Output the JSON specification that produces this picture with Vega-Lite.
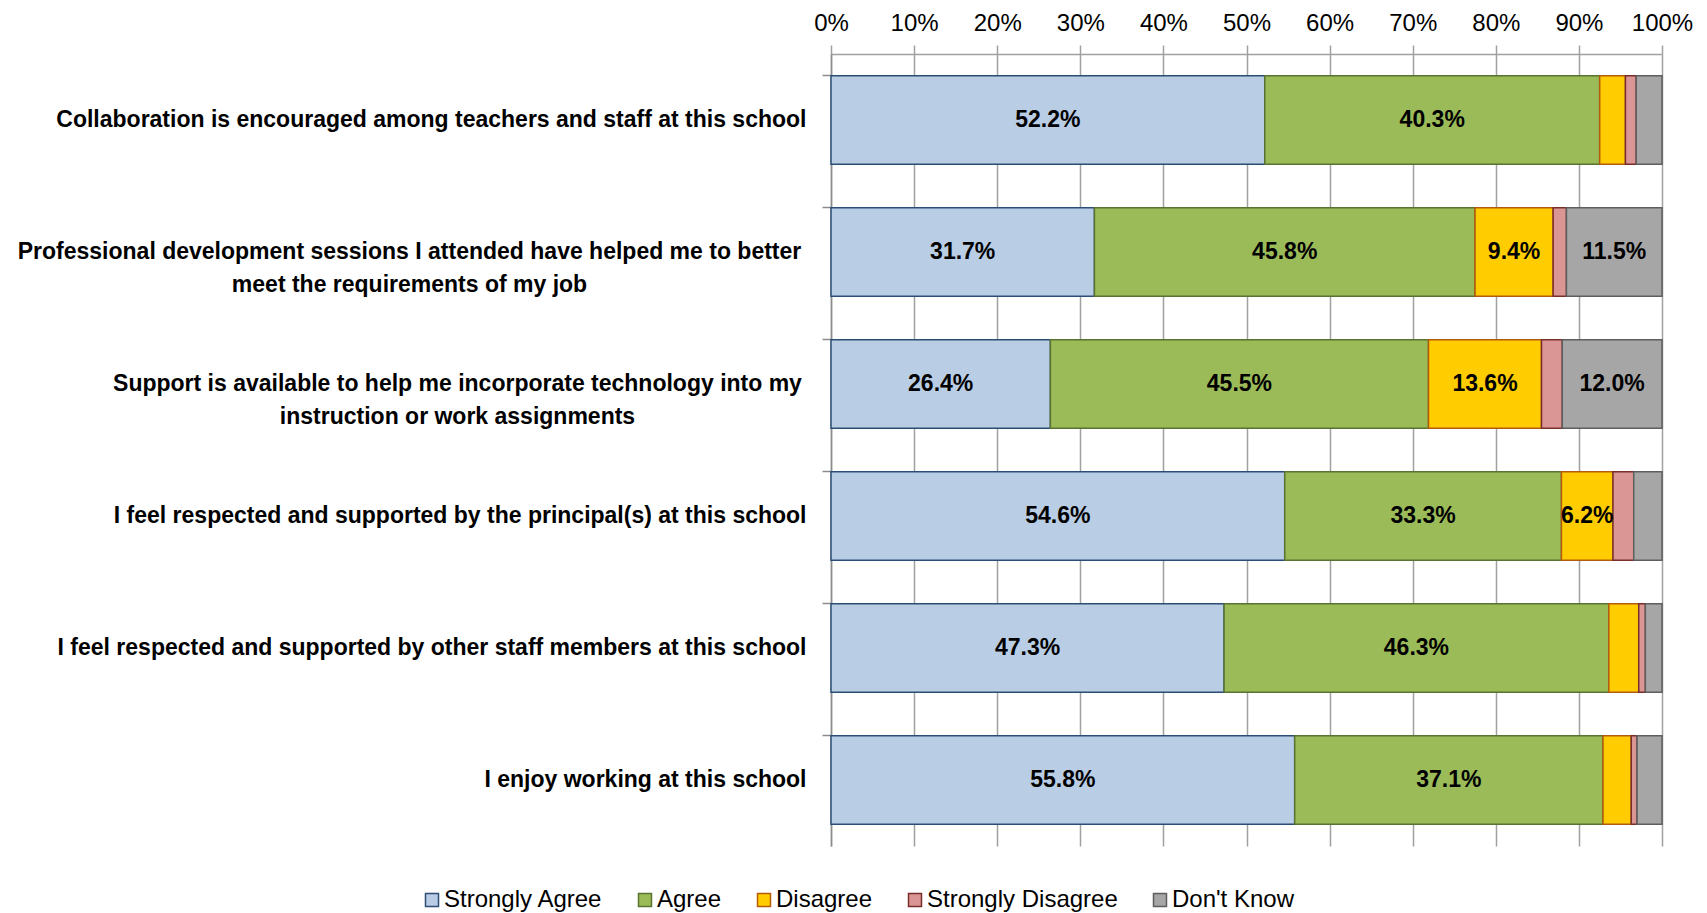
{
  "$schema": "https://vega.github.io/schema/vega-lite/v6.json",
  "width": 831,
  "height": 792,
  "autosize": {"type": "none"},
  "padding": {"left": 831, "top": 54, "right": 45, "bottom": 67},
  "background": "white",
  "config": {"view": {"stroke": null}, "font": "Liberation Sans"},
  "data": {"values": [
    {"q": "Collaboration is encouraged among teachers and staff at this school", "cat": "Strongly Agree", "order": 1, "value": 52.2},
    {"q": "Collaboration is encouraged among teachers and staff at this school", "cat": "Agree", "order": 2, "value": 40.3},
    {"q": "Collaboration is encouraged among teachers and staff at this school", "cat": "Disagree", "order": 3, "value": 3.1},
    {"q": "Collaboration is encouraged among teachers and staff at this school", "cat": "Strongly Disagree", "order": 4, "value": 1.3},
    {"q": "Collaboration is encouraged among teachers and staff at this school", "cat": "Don't Know", "order": 5, "value": 3.1},
    {"q": "Professional development sessions I attended have helped me to better|meet the requirements of my job", "cat": "Strongly Agree", "order": 1, "value": 31.7},
    {"q": "Professional development sessions I attended have helped me to better|meet the requirements of my job", "cat": "Agree", "order": 2, "value": 45.8},
    {"q": "Professional development sessions I attended have helped me to better|meet the requirements of my job", "cat": "Disagree", "order": 3, "value": 9.4},
    {"q": "Professional development sessions I attended have helped me to better|meet the requirements of my job", "cat": "Strongly Disagree", "order": 4, "value": 1.6},
    {"q": "Professional development sessions I attended have helped me to better|meet the requirements of my job", "cat": "Don't Know", "order": 5, "value": 11.5},
    {"q": "Support is available to help me incorporate technology into my|instruction or work assignments", "cat": "Strongly Agree", "order": 1, "value": 26.4},
    {"q": "Support is available to help me incorporate technology into my|instruction or work assignments", "cat": "Agree", "order": 2, "value": 45.5},
    {"q": "Support is available to help me incorporate technology into my|instruction or work assignments", "cat": "Disagree", "order": 3, "value": 13.6},
    {"q": "Support is available to help me incorporate technology into my|instruction or work assignments", "cat": "Strongly Disagree", "order": 4, "value": 2.5},
    {"q": "Support is available to help me incorporate technology into my|instruction or work assignments", "cat": "Don't Know", "order": 5, "value": 12.0},
    {"q": "I feel respected and supported by the principal(s) at this school", "cat": "Strongly Agree", "order": 1, "value": 54.6},
    {"q": "I feel respected and supported by the principal(s) at this school", "cat": "Agree", "order": 2, "value": 33.3},
    {"q": "I feel respected and supported by the principal(s) at this school", "cat": "Disagree", "order": 3, "value": 6.2},
    {"q": "I feel respected and supported by the principal(s) at this school", "cat": "Strongly Disagree", "order": 4, "value": 2.5},
    {"q": "I feel respected and supported by the principal(s) at this school", "cat": "Don't Know", "order": 5, "value": 3.4},
    {"q": "I feel respected and supported by other staff members at this school", "cat": "Strongly Agree", "order": 1, "value": 47.3},
    {"q": "I feel respected and supported by other staff members at this school", "cat": "Agree", "order": 2, "value": 46.3},
    {"q": "I feel respected and supported by other staff members at this school", "cat": "Disagree", "order": 3, "value": 3.6},
    {"q": "I feel respected and supported by other staff members at this school", "cat": "Strongly Disagree", "order": 4, "value": 0.8},
    {"q": "I feel respected and supported by other staff members at this school", "cat": "Don't Know", "order": 5, "value": 2.0},
    {"q": "I enjoy working at this school", "cat": "Strongly Agree", "order": 1, "value": 55.8},
    {"q": "I enjoy working at this school", "cat": "Agree", "order": 2, "value": 37.1},
    {"q": "I enjoy working at this school", "cat": "Disagree", "order": 3, "value": 3.4},
    {"q": "I enjoy working at this school", "cat": "Strongly Disagree", "order": 4, "value": 0.7},
    {"q": "I enjoy working at this school", "cat": "Don't Know", "order": 5, "value": 3.0}
  ]},
  "transform": [
    {"stack": "value", "groupby": ["q"], "sort": [{"field": "order"}], "as": ["x0", "x1"]},
    {"calculate": "(datum.x0 + datum.x1) / 2", "as": "xmid"},
    {"calculate": "format(datum.value, '.1f') + '%'", "as": "label"}
  ],
  "encoding": {
    "y": {
      "field": "q",
      "type": "nominal",
      "sort": [
        "Collaboration is encouraged among teachers and staff at this school",
        "Professional development sessions I attended have helped me to better|meet the requirements of my job",
        "Support is available to help me incorporate technology into my|instruction or work assignments",
        "I feel respected and supported by the principal(s) at this school",
        "I feel respected and supported by other staff members at this school",
        "I enjoy working at this school"
      ],
      "scale": {"paddingInner": 0.33, "paddingOuter": 0.165},
      "axis": {
        "title": null,
        "bandPosition": 0,
        "tickSize": 9,
        "tickColor": "#8C8C8C",
        "tickWidth": 1.5,
        "domainColor": "#8C8C8C",
        "domainWidth": 1.5,
        "labelFont": "Liberation Sans",
        "labelFontWeight": "bold",
        "labelFontSize": 23,
        "labelColor": "black",
        "labelAlign": {"condition": {"test": "indexof(datum.value, '|') >= 0", "value": "center"}, "value": "right"},
        "labelPadding": {"condition": [
          {"test": "indexof(datum.value, 'Professional') === 0", "value": 413},
          {"test": "indexof(datum.value, 'Support') === 0", "value": 365}
        ], "value": 16},
        "labelLimit": 1000,
        "labelLineHeight": 33,
        "labelExpr": "split(datum.label, '|')",
        "grid": false
      }
    }
  },
  "layer": [
    {
      "mark": {"type": "bar", "strokeWidth": 1.5},
      "encoding": {
        "x": {
          "field": "x0",
          "type": "quantitative",
          "scale": {"domain": [0, 100], "nice": false},
          "axis": {
            "orient": "top",
            "title": null,
            "values": [0, 10, 20, 30, 40, 50, 60, 70, 80, 90, 100],
            "labelExpr": "datum.value + '%'",
            "grid": true,
            "gridColor": "#A0A0A0",
            "gridWidth": 1.5,
            "tickSize": 9,
            "tickColor": "#A0A0A0",
            "tickWidth": 1.5,
            "domainColor": "#A0A0A0",
            "domainWidth": 1.5,
            "labelFontSize": 24,
            "labelColor": "black",
            "labelPadding": 10,
            "labelFlush": false
          }
        },
        "x2": {"field": "x1"},
        "fill": {
          "field": "cat",
          "type": "nominal",
          "scale": {
            "domain": ["Strongly Agree", "Agree", "Disagree", "Strongly Disagree", "Don't Know"],
            "range": ["#B9CDE5", "#9BBB59", "#FFCC00", "#D99694", "#A6A6A6"]
          },
          "legend": {
            "title": null,
            "orient": "none",
            "legendX": -411,
            "legendY": 834,
            "direction": "horizontal",
            "symbolType": "square",
            "symbolSize": 169,
            "symbolStrokeWidth": 1.5,
            "labelFontSize": 24,
            "labelColor": "black",
            "labelLimit": 500,
            "columnPadding": 30,
            "labelOffset": 0,
            "padding": 0
          }
        },
        "stroke": {
          "field": "cat",
          "type": "nominal",
          "scale": {
            "domain": ["Strongly Agree", "Agree", "Disagree", "Strongly Disagree", "Don't Know"],
            "range": ["#2C4D75", "#5A7330", "#B35B0C", "#7A2E2C", "#5E5E5E"]
          },
          "legend": {
            "title": null,
            "orient": "none",
            "legendX": -411,
            "legendY": 834,
            "direction": "horizontal",
            "symbolType": "square",
            "symbolSize": 169,
            "symbolStrokeWidth": 1.5,
            "labelFontSize": 24,
            "labelColor": "black",
            "labelLimit": 500,
            "columnPadding": 30,
            "labelOffset": 0,
            "padding": 0
          }
        }
      }
    },
    {
      "transform": [{"filter": "datum.value >= 5"}],
      "mark": {"type": "text", "fontWeight": "bold", "fontSize": 23, "color": "black", "font": "Liberation Sans"},
      "encoding": {
        "x": {
          "field": "xmid",
          "type": "quantitative",
          "axis": {
            "orient": "top",
            "title": null,
            "values": [0, 10, 20, 30, 40, 50, 60, 70, 80, 90, 100],
            "labelExpr": "datum.value + '%'",
            "grid": true,
            "gridColor": "#A0A0A0",
            "gridWidth": 1.5,
            "tickSize": 9,
            "tickColor": "#A0A0A0",
            "tickWidth": 1.5,
            "domainColor": "#A0A0A0",
            "domainWidth": 1.5,
            "labelFontSize": 24,
            "labelColor": "black",
            "labelPadding": 10,
            "labelFlush": false
          }
        },
        "text": {"field": "label"}
      }
    }
  ]
}
